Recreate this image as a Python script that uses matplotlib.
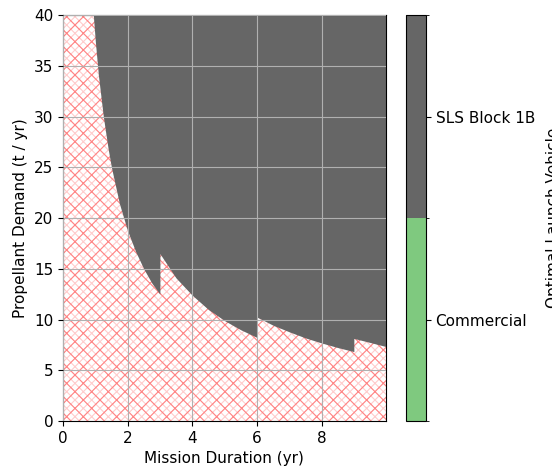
import matplotlib
matplotlib.use("Agg")
import matplotlib.pyplot as plt
from matplotlib.colors import ListedColormap, BoundaryNorm
from matplotlib.cm import ScalarMappable

# boundary between infeasible (hatched) and SLS Block 1B region
seg1_x = [0.94, 1.0, 1.1, 1.25, 1.4, 1.5, 1.75, 2.0, 2.25, 2.5, 2.75, 3.0]
seg1_y = [40.0, 37.5, 34.0, 30.0, 26.8, 25.0, 21.4, 18.75, 16.7, 15.0, 13.6, 12.5]
seg2_x = [3.0, 3.5, 4.0, 4.5, 5.0, 5.5, 6.0]
seg2_y = [16.5, 14.1, 12.4, 11.0, 9.9, 9.0, 8.25]
seg3_x = [6.0, 6.5, 7.0, 7.5, 8.0, 8.5, 9.0]
seg3_y = [10.25, 9.45, 8.8, 8.2, 7.7, 7.25, 6.85]
seg4_x = [9.0, 9.5, 9.99]
seg4_y = [8.15, 7.75, 7.35]

vehicles = ["Commercial", "SLS Block 1B"]
vehicle_colors = ["#7fc97f", "#666666"]

x_max = 9.99
y_max = 40

plt.rcParams["hatch.linewidth"] = 0.8

fig = plt.figure(figsize=(5.52, 4.70), dpi=100)
ax = fig.add_axes([0.114, 0.104, 0.585, 0.864])
cax = fig.add_axes([0.7355, 0.104, 0.036, 0.864])

# hatched background (no feasible vehicle)
ax.fill_between([0, x_max], 0, y_max, facecolor="white", linewidth=0, zorder=0.5)
ax.fill_between([0, x_max], 0, y_max, facecolor="none", edgecolor="red",
                hatch="xxxx", linewidth=0, alpha=0.2, zorder=1)
ax.fill_between([0, x_max], 0, y_max, facecolor="none", edgecolor="red",
                hatch="xx", linewidth=0, alpha=0.35, zorder=1)

bx = seg1_x + seg2_x + seg3_x + seg4_x
by = seg1_y + seg2_y + seg3_y + seg4_y
ax.fill_between(bx, by, y_max, color=vehicle_colors[1], linewidth=0, zorder=2)

ax.set_xlim(0, x_max)
ax.set_ylim(0, y_max)
ax.set_xticks([0, 2, 4, 6, 8])
ax.set_yticks(range(0, 41, 5))
ax.grid(True, zorder=3)
ax.set_axisbelow(False)
ax.tick_params(labelsize=11)
ax.set_xlabel("Mission Duration (yr)", fontsize=11)
ax.set_ylabel("Propellant Demand (t / yr)", fontsize=11)

cmap = ListedColormap(vehicle_colors)
norm = BoundaryNorm([0, 1, 2], cmap.N)
cb = fig.colorbar(ScalarMappable(norm=norm, cmap=cmap), cax=cax, ticks=[0.5, 1.5])
cb.ax.set_yticklabels(vehicles, fontsize=11)
cb.set_label("Optimal Launch Vehicle", fontsize=11, labelpad=8)

fig.savefig("out.png", dpi=100)
